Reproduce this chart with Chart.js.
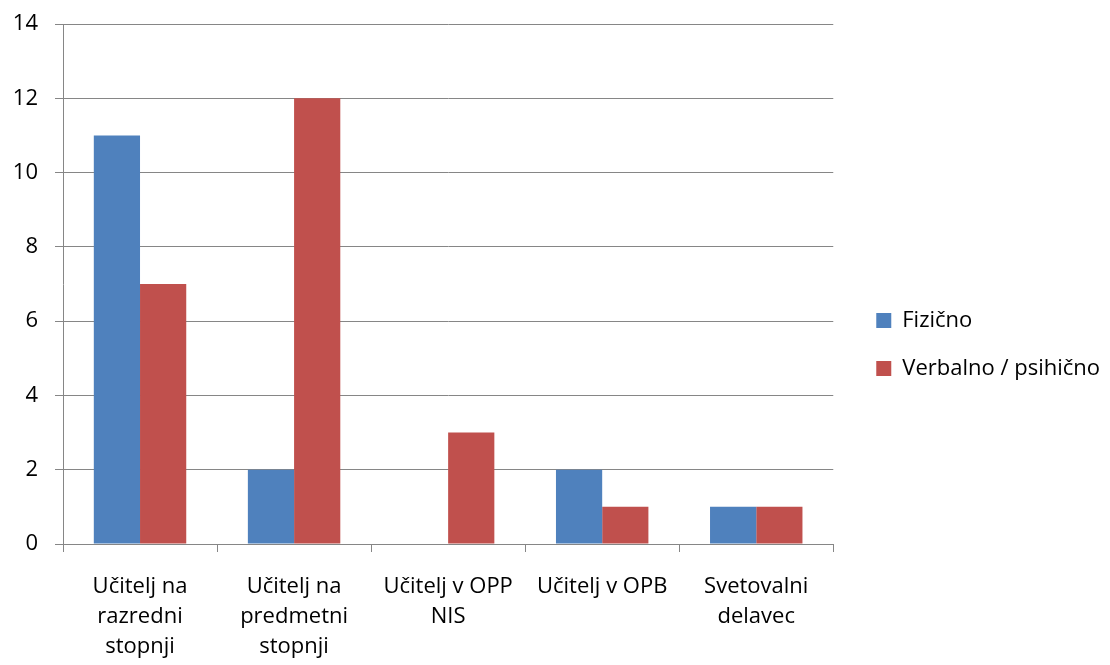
<!DOCTYPE html>
<html>
<head>
<meta charset="utf-8">
<script src="https://cdn.jsdelivr.net/npm/chart.js@4/dist/chart.umd.min.js"></script>
<style>
  html, body { margin: 0; padding: 0; background: #fff; }
  #wrap { width: 1110px; height: 665px; }
</style>
</head>
<body>
<div id="wrap"><canvas id="myChart" width="1110" height="665"></canvas></div>
<script>
const categories = [
  ['Učitelj na', 'razredni', 'stopnji'],
  ['Učitelj na', 'predmetni', 'stopnji'],
  ['Učitelj v OPP', 'NIS'],
  ['Učitelj v OPB'],
  ['Svetovalni', 'delavec']
];
const fizicno = [11, 2, 0, 2, 1];
const verbalno = [7, 12, 3, 1, 1];
const yTicks = [0, 2, 4, 6, 8, 10, 12, 14];

const gridColor = '#868686';
const fontFamily = "'Open Sans', 'Liberation Sans', sans-serif";
const fontSize = 22;
const legendGap = 17; // extra room between plot and legend

// widen the legend box on its left side so the plot ends where the legend gap starts
const legendGapPlugin = {
  id: 'legendGap',
  beforeLayout(chart) {
    const legend = chart.legend;
    if (legend && !legend._gapPatched) {
      const fit = legend.fit;
      legend.fit = function () {
        fit.call(this);
        this.width += legendGap;
      };
      legend._gapPatched = true;
    }
  },
  afterLayout(chart) {
    if (chart.legend) chart.legend.left += legendGap;
  }
};

const ctx = document.getElementById('myChart');
let myChart = new Chart(ctx, {
  type: 'bar',
  data: {
    labels: categories,
    datasets: [
      { label: 'Fizično', data: fizicno, backgroundColor: '#4F81BD' },
      { label: 'Verbalno / psihično', data: verbalno, backgroundColor: '#C0504D' }
    ]
  },
  plugins: [legendGapPlugin],
  options: {
    responsive: false,
    animation: false,
    datasets: { bar: { categoryPercentage: 0.6, barPercentage: 1 } },
    layout: { padding: { top: 24, left: 0, right: 0, bottom: 0 } },
    plugins: {
      tooltip: { enabled: false },
      legend: {
        position: 'right',
        labels: {
          boxWidth: 15,
          boxHeight: 15,
          padding: 26,
          color: '#000',
          font: { family: fontFamily, size: fontSize }
        }
      }
    },
    scales: {
      x: {
        grid: {
          offset: true,
          drawOnChartArea: false,
          drawTicks: true,
          tickLength: 8,
          color: gridColor
        },
        border: { color: gridColor },
        ticks: {
          color: '#000',
          padding: 20,
          maxRotation: 0,
          font: { family: fontFamily, size: fontSize, lineHeight: 1.36 }
        },
        afterFit: function (scale) { scale.height = 121; }
      },
      y: {
        min: 0,
        max: 14,
        afterBuildTicks: function (scale) {
          scale.ticks = yTicks.map(v => ({ value: v }));
        },
        grid: { color: gridColor, tickLength: 8 },
        border: { color: gridColor },
        ticks: {
          color: '#000',
          padding: 17,
          font: { family: fontFamily, size: fontSize }
        },
        afterFit: function (scale) {
          scale.width = 63;
          scale.paddingTop = 0;
          scale.paddingBottom = 0;
        }
      }
    }
  }
});
</script>
</body>
</html>
